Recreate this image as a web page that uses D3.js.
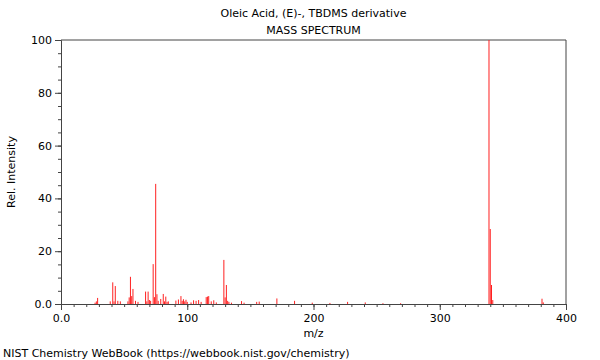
<!DOCTYPE html>
<html>
<head>
<meta charset="utf-8">
<script src="https://cdn.jsdelivr.net/npm/d3@7"></script>
<style>
  body { margin: 0; background: #fff; }
  svg { font-family: "DejaVu Sans", sans-serif; }
</style>
</head>
<body>
<div id="vis"></div>
<script>
const titleLines = ["Oleic Acid, (E)-, TBDMS derivative", "MASS SPECTRUM"];
const xLabel = "m/z";
const yLabel = "Rel. Intensity";
const footer = "NIST Chemistry WebBook (https://webbook.nist.gov/chemistry)";

const mz = [27, 28, 29, 39, 41, 42, 43, 45, 47, 53, 54, 55, 56, 57, 59, 61,
  67, 68, 69, 70, 71, 73, 74, 75, 76, 77, 79, 81, 82, 83, 84, 85,
  91, 93, 95, 96, 97, 98, 99, 100, 103, 105, 107, 109, 111,
  115, 116, 117, 119, 121, 123, 129, 130, 131, 132, 133, 135,
  143, 145, 155, 157, 171, 185, 199, 213, 227, 241, 255, 269,
  339, 340, 341, 342, 381, 382];
const intensity = [0.5, 1.0, 2.3, 1.0, 8.2, 1.0, 6.8, 1.2, 1.0, 1.0, 2.5, 10.3, 3.0, 5.7, 1.2, 0.8,
  4.7, 1.0, 4.7, 1.5, 1.2, 15.1, 2.6, 45.5, 3.7, 1.2, 1.9, 3.8, 1.0, 2.8, 0.8, 1.0,
  1.3, 1.7, 3.0, 1.2, 1.8, 1.0, 1.6, 0.8, 0.6, 1.4, 1.2, 1.5, 0.8,
  2.6, 2.8, 3.0, 1.0, 1.4, 0.6, 16.7, 2.5, 7.2, 1.2, 0.8, 0.5,
  1.1, 0.5, 0.8, 0.9, 2.1, 1.2, 0.5, 0.4, 0.8, 0.6, 0.3, 0.3,
  100, 28.4, 7.2, 1.5, 2.0, 0.6];

const xMajor = [0, 100, 200, 300, 400];
const yMajor = [0, 20, 40, 60, 80, 100];

const width = 600, height = 360;
const margin = {top: 40, right: 34, bottom: 56, left: 61};

const svg = d3.select("#vis").append("svg")
  .attr("width", width)
  .attr("height", height);

const x = d3.scaleLinear().domain([0, 400]).range([margin.left, width - margin.right]);
const y = d3.scaleLinear().domain([0, 100]).range([height - margin.bottom, margin.top]);

const fmt = d => d === 0 ? "0.0" : String(d);
const axisColor = "#444";

// minor ticks
svg.append("g")
  .attr("transform", `translate(0,${y(0)})`)
  .call(d3.axisBottom(x).tickValues(d3.range(0, 401, 10)).tickSize(3).tickFormat(""))
  .call(g => g.select(".domain").remove());
svg.append("g")
  .attr("transform", `translate(${x(0)},0)`)
  .call(d3.axisLeft(y).tickValues(d3.range(0, 101, 5)).tickSize(3).tickFormat(""))
  .call(g => g.select(".domain").remove());

// major ticks
const xAxis = svg.append("g")
  .attr("transform", `translate(0,${y(0)})`)
  .call(d3.axisBottom(x).tickValues(xMajor).tickSize(6).tickPadding(4).tickFormat(fmt));
const yAxis = svg.append("g")
  .attr("transform", `translate(${x(0)},0)`)
  .call(d3.axisLeft(y).tickValues(yMajor).tickSize(6).tickPadding(3).tickFormat(fmt));

svg.selectAll(".tick line").attr("stroke", axisColor);
svg.selectAll(".domain").attr("stroke", axisColor);
svg.selectAll(".tick text").attr("font-size", 11).attr("fill", "#000")
  .attr("font-family", "DejaVu Sans, sans-serif");

// frame top/right
svg.append("path")
  .attr("d", `M${x(0)},${y(100)}H${x(400)}V${y(0)}`)
  .attr("fill", "none")
  .attr("stroke", axisColor);

// peaks
svg.append("g").selectAll("line")
  .data(mz.map((m, i) => [m, intensity[i]]))
  .join("line")
  .attr("x1", d => x(d[0]))
  .attr("x2", d => x(d[0]))
  .attr("y1", y(0))
  .attr("y2", d => y(d[1]))
  .attr("stroke", "#ff2020")
  .attr("stroke-width", 1);

// texts
svg.selectAll("text.title")
  .data(titleLines)
  .join("text")
  .attr("class", "title")
  .attr("x", (x(0) + x(400)) / 2)
  .attr("y", (d, i) => 17 + i * 17)
  .attr("text-anchor", "middle")
  .attr("font-size", 11)
  .text(d => d);

svg.append("text")
  .attr("x", (x(0) + x(400)) / 2)
  .attr("y", 337)
  .attr("text-anchor", "middle")
  .attr("font-size", 11)
  .text(xLabel);

svg.append("text")
  .attr("transform", `translate(15,${(y(0) + y(100)) / 2}) rotate(-90)`)
  .attr("text-anchor", "middle")
  .attr("font-size", 11)
  .text(yLabel);

svg.append("text")
  .attr("x", 3)
  .attr("y", 357)
  .attr("font-size", 11)
  .text(footer);
</script>
</body>
</html>
